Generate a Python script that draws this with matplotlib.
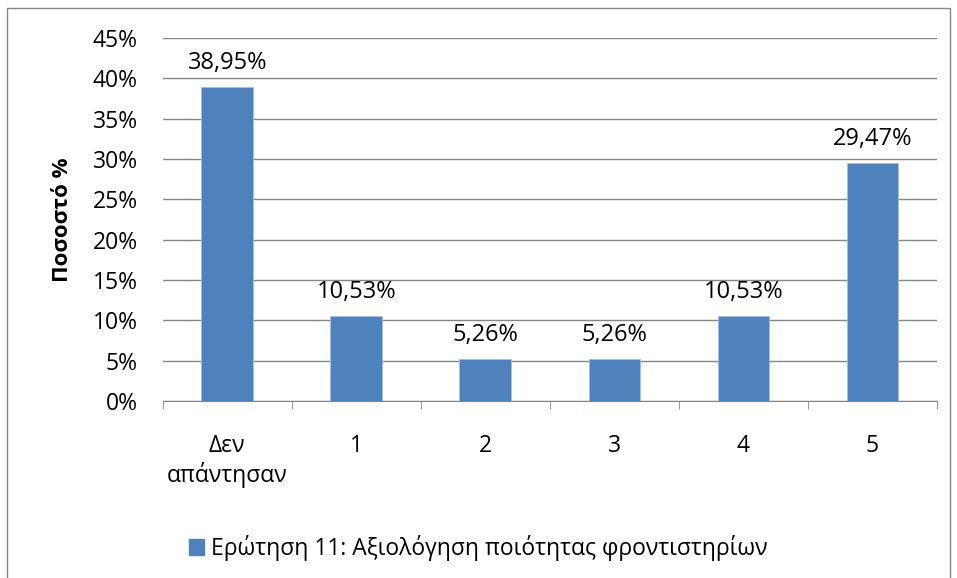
import matplotlib.pyplot as plt
import matplotlib.patches as mpatches
import numpy as np

plt.rcParams['font.family'] = ['Open Sans', 'DejaVu Sans']

categories = ['Δεν\nαπάντησαν', '1', '2', '3', '4', '5']
values = [38.95, 10.53, 5.26, 5.26, 10.53, 29.47]
series_name = 'Ερώτηση 11: Αξιολόγηση ποιότητας φροντιστηρίων'
bar_color = '#4F81BD'
fs = 16.5

fig = plt.figure(figsize=(9.57, 5.78), dpi=100)
ax = fig.add_axes([0.170, 0.306, 0.809, 0.628])

x = np.arange(len(categories))
ax.bar(x, values, width=0.4, color=bar_color, edgecolor='#A7BFDE', linewidth=0.6,
       label=series_name, zorder=3)

for xi, v in zip(x, values):
    ax.text(xi, v + 1.5, f'{v:.2f}%'.replace('.', ','), ha='center', va='bottom', fontsize=17)

ax.set_xlim(-0.5, len(categories) - 0.5)
ax.set_ylim(0, 45)
ax.set_yticks(np.arange(0, 46, 5))
ax.set_yticklabels([f'{t}%' for t in range(0, 46, 5)], fontsize=fs)
ax.set_xticks(x)
ax.set_xticklabels(categories, fontsize=fs, linespacing=1.2)
ax.tick_params(axis='x', length=0, pad=24)
ax.set_xticks(np.arange(-0.5, len(categories)), minor=True)
ax.tick_params(axis='x', which='minor', length=6, color='#868686')
ax.tick_params(axis='y', length=0, pad=18)

ax.grid(axis='y', color='#868686', linewidth=1, zorder=0)
for s in ['top', 'right', 'left']:
    ax.spines[s].set_visible(False)
ax.spines['bottom'].set_color('#868686')

ax.set_ylabel('Ποσοστό %', fontsize=16, fontweight='bold', labelpad=14)

handle = mpatches.Patch(color=bar_color)
fig.legend([handle], [series_name], loc='center', bbox_to_anchor=(0.5, 0.052),
           frameon=False, fontsize=fs, handlelength=0.65, handleheight=0.65, handletextpad=0.3)

fig.patches.append(mpatches.Rectangle((0.007, -0.01), 0.986, 0.997, transform=fig.transFigure,
                                      fill=False, edgecolor='#868686', linewidth=1))

fig.savefig('out.png', dpi=100)
